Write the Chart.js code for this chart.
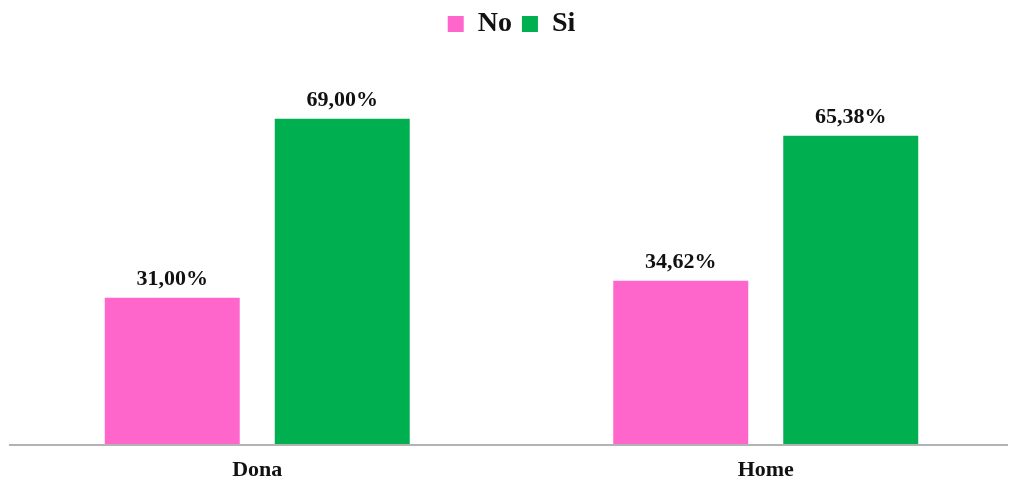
<!DOCTYPE html>
<html>
<head>
<meta charset="utf-8">
<script src="https://cdn.jsdelivr.net/npm/chart.js@4.4.1/dist/chart.umd.min.js"></script>
<style>
  html, body { margin: 0; padding: 0; background: #fff; overflow: hidden; }
  #wrap { width: 1009px; height: 481px; overflow: hidden; }
  #lienzo { width: 1021px; height: 481px; }
</style>
</head>
<body>
<div id="wrap"><div id="lienzo"><canvas id="grafica"></canvas></div></div>
<script>
// --- Datos ---
const categorias = ['Dona', 'Home'];
const valoresNo = [31.00, 34.62];
const valoresSi = [69.00, 65.38];
const series = ['No', 'Si'];

const fuente = '"Liberation Serif", "Times New Roman", serif';

// etiquetas encima de cada barra (no hay plugin datalabels)
const etiquetas = {
    id: 'etiquetas',
    afterDatasetsDraw(chart) {
        const ctx = chart.ctx;
        ctx.save();
        ctx.font = 'bold 22px ' + fuente;
        ctx.fillStyle = '#111';
        ctx.textAlign = 'center';
        ctx.textBaseline = 'alphabetic';
        chart.data.datasets.forEach((ds, i) => {
            chart.getDatasetMeta(i).data.forEach((bar, j) => {
                const txt = ds.data[j].toFixed(2).replace('.', ',') + '%';
                ctx.fillText(txt, bar.x, bar.y - 13);
            });
        });
        ctx.restore();
    }
};

// linea del eje en el cero, del ancho visible
const ejeCero = {
    id: 'ejeCero',
    afterDatasetsDraw(chart) {
        const ctx = chart.ctx;
        const y0 = chart.scales.y.getPixelForValue(0) + 1;
        ctx.save();
        ctx.strokeStyle = '#b3b3b3';
        ctx.lineWidth = 2;
        ctx.beginPath();
        ctx.moveTo(9, y0);
        ctx.lineTo(1008, y0);
        ctx.stroke();
        ctx.restore();
    }
};

new Chart(document.getElementById('grafica'), {
    type: 'bar',
    data: {
        labels: categorias,
        datasets: [
            { label: series[0], data: valoresNo, backgroundColor: '#FF66CC' },
            { label: series[1], data: valoresSi, backgroundColor: '#00B050' }
        ]
    },
    options: {
        responsive: true,
        maintainAspectRatio: false,
        animation: false,
        categoryPercentage: 0.6686,
        barPercentage: 0.794,
        layout: { padding: { left: 3, right: 1, top: 0, bottom: 0 } },
        plugins: {
            tooltip: { enabled: false },
            legend: {
                position: 'top',
                labels: {
                    boxWidth: 16,
                    boxHeight: 16,
                    padding: 10,
                    color: '#111',
                    font: { family: fuente, size: 28, weight: 'bold' }
                }
            }
        },
        scales: {
            x: {
                grid: { display: false, drawTicks: false },
                border: { display: false },
                ticks: {
                    padding: 13,
                    color: '#111',
                    font: { family: fuente, size: 22, weight: 'bold' }
                },
                afterFit(scale) { scale.height = 37; }
            },
            y: {
                display: false,
                min: 0,
                max: 84
            }
        }
    },
    plugins: [etiquetas, ejeCero]
});
</script>
</body>
</html>
